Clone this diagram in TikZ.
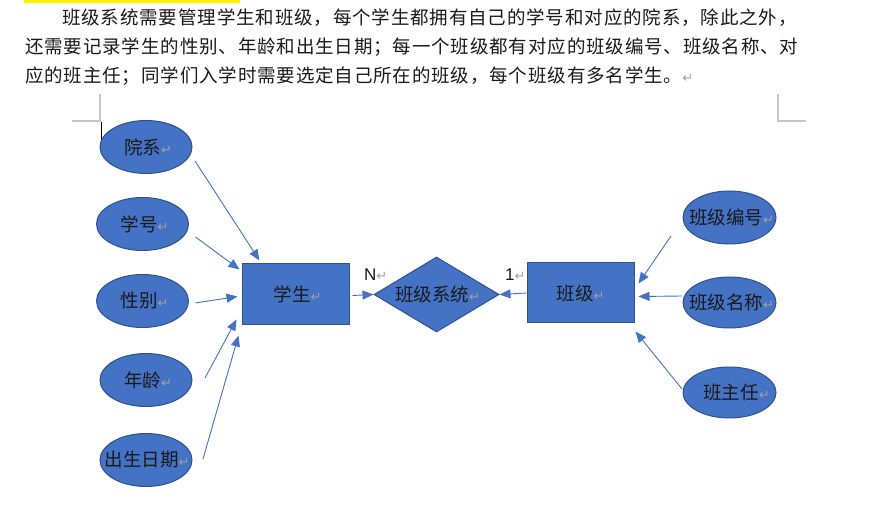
\documentclass[tikz,border=0pt]{standalone}
\usepackage{fontspec}
\usetikzlibrary{shapes.geometric,arrows.meta}
\newfontfamily\cjk{Noto Sans CJK SC}
\newfontfamily\bodycjk[LetterSpace=4.6]{Noto Sans CJK SC}
\newfontfamily\dvs{DejaVu Sans}
\newfontfamily\latinsans{Liberation Sans}
\definecolor{fillb}{HTML}{4472C4}
\definecolor{edgeb}{HTML}{2F528F}
\definecolor{lineb}{HTML}{4472C4}
\definecolor{retgray}{HTML}{A0A0A0}
\definecolor{markgray}{HTML}{C8C8C8}
\definecolor{txt}{HTML}{1A1A1A}
\newcommand{\retmark}{{\color{retgray}\dvs\fontsize{13}{13}\selectfont ↵}}
\newcommand{\fixw}[1]{\makebox[0pt]{#1}}
\tikzset{
  attr/.style={ellipse, draw=edgeb, line width=1pt, fill=fillb, minimum width=92pt, minimum height=53pt, inner sep=0pt, text=txt, font=\cjk\fontsize{18.5}{18.5}\selectfont},
  entity/.style={rectangle, draw=edgeb, line width=1pt, fill=fillb, minimum width=107pt, minimum height=61pt, inner sep=0pt, text=txt, font=\cjk\fontsize{18.5}{18.5}\selectfont},
  relation/.style={diamond, draw=edgeb, line width=1pt, fill=fillb, minimum width=125pt, minimum height=75pt, inner sep=0pt, aspect=1.67, text=txt, font=\cjk\fontsize{18.5}{18.5}\selectfont},
  arr/.style={draw=lineb, line width=0.9pt, -{Triangle[length=11pt,width=9pt]}},
  para/.style={anchor=west, inner sep=0pt, text=txt, font=\bodycjk\fontsize{18.5}{18.5}\selectfont},
  card/.style={anchor=west, inner sep=0pt, text=txt, font=\latinsans\fontsize{17}{17}\selectfont},
  cornermark/.style={draw=markgray, line width=1.2pt}
}
\begin{document}
\begin{tikzpicture}[x=1pt,y=-1pt]
\useasboundingbox (0,0) rectangle (891,510);
\fill[white] (0,0) rectangle (891,510);
% highlight strip
\fill[yellow] (24,0) rectangle (240,3);
% paragraph
\node[para] (p1) at (62,18) {班级系统需要管理学生和班级，每个学生都拥有自己的学号和对应的院系，除此之外，};
\node[para] (p2) at (25,47) {还需要记录学生的性别、年龄和出生日期；每一个班级都有对应的班级编号、班级名称、对};
\node[para] (p3) at (25,76) {应的班主任；同学们入学时需要选定自己所在的班级，每个班级有多名学生。\retmark};
% corner marks
\draw[cornermark] (100,94) -- (100,121) -- (72,121);
\draw[cornermark] (778,94) -- (778,121) -- (806,121);
% cursor
\draw[black, line width=1pt] (101,122) -- (101,142);
% attributes (left)
\node[attr] (yx) at (146,147) {\fixw{\hspace*{4pt}院系\retmark}};
\node[attr] (xh) at (142.5,224) {\fixw{\hspace*{4pt}学号\retmark}};
\node[attr] (xb) at (142.5,301) {\fixw{\hspace*{4pt}性别\retmark}};
\node[attr] (nl) at (146,380) {\fixw{\hspace*{4pt}年龄\retmark}};
\node[attr] (cs) at (146,460) {\fixw{\hspace*{2pt}出生日期\retmark}};
% entities and relation
\node[entity] (xs) at (295.5,294.5) {\fixw{\hspace*{4pt}学生\retmark}};
\node[relation] (rel) at (436.5,294.5) {\fixw{\hspace*{2pt}班级系统\retmark}};
\node[entity, minimum height=60pt] (bj) at (580.5,293) {\fixw{班级\retmark}};
% attributes (right)
\node[attr, minimum width=93pt] (bh) at (729.5,217.5) {\fixw{\hspace*{4pt}班级编号\retmark}};
\node[attr, minimum width=93pt, minimum height=51pt] (mc) at (729.5,302.5) {\fixw{\hspace*{4pt}班级名称\retmark}};
\node[attr, minimum width=93pt, minimum height=51pt] (bzr) at (729.5,392.5) {\fixw{\hspace*{14pt}班主任\retmark}};
% cardinalities
\node[card] (nlab) at (364,275) {N\retmark};
\node[card] (olab) at (505,275) {1\retmark};
% connectors
\draw[arr] ([shift={(49,14)}]yx.center) -- ([shift={(18,-3)}]xs.north west);
\draw[arr] ([shift={(53,13)}]xh.center) -- ([shift={(-2,6)}]xs.north west);
\draw[arr] ([shift={(53,2)}]xb.center) -- ([shift={(-4,33)}]xs.north west);
\draw[arr] ([shift={(59,-2)}]nl.center) -- ([shift={(-5,56)}]xs.north west);
\draw[arr] ([shift={(57,-1)}]cs.center) -- ([shift={(-3,72)}]xs.north west);
\draw[arr] ([shift={(3,1)}]xs.east) -- (rel.west);
\draw[arr] (bj.west) -- (rel.east);
\draw[arr] ([shift={(-58.5,18.5)}]bh.center) -- ([shift={(4,21)}]bj.north east);
\draw[arr] ([shift={(-47.5,-6.5)}]mc.center) -- ([shift={(4,34)}]bj.north east);
\draw[arr] ([shift={(-47.5,-3.5)}]bzr.center) -- ([shift={(1,69)}]bj.north east);
\end{tikzpicture}
\end{document}
